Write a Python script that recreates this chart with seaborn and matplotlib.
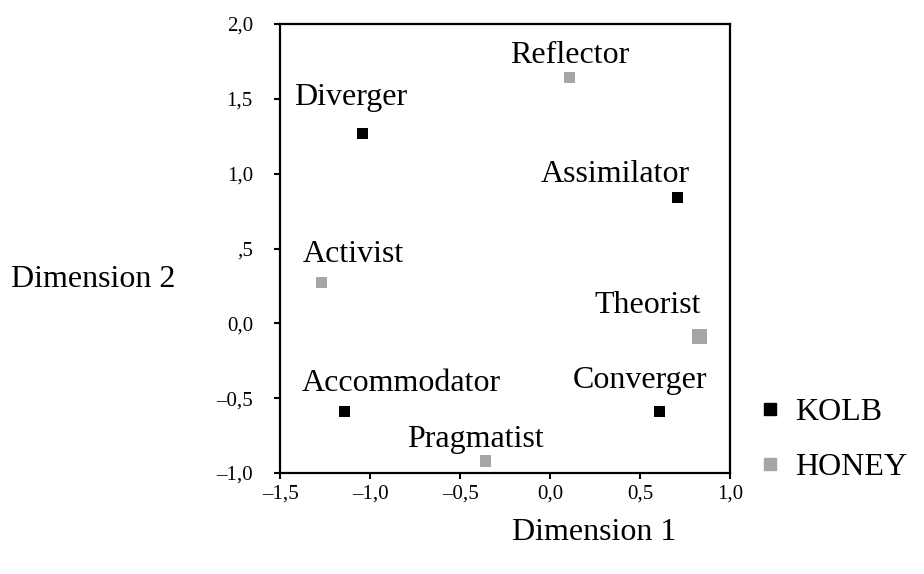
import numpy as np
import pandas as pd
import seaborn as sns
import matplotlib.pyplot as plt
from matplotlib.lines import Line2D

# Points (Dimension 1, Dimension 2)
styles = ['Diverger', 'Assimilator', 'Accommodator', 'Converger',
          'Reflector', 'Activist', 'Theorist', 'Pragmatist']
model = ['KOLB', 'KOLB', 'KOLB', 'KOLB',
         'HONEY', 'HONEY', 'HONEY', 'HONEY']
dim1 = [-1.04, 0.71, -1.14, 0.61, 0.11, -1.27, 0.83, -0.36]
dim2 = [1.27, 0.84, -0.59, -0.59, 1.64, 0.27, -0.09, -0.92]

x_ticks = [-1.5, -1.0, -0.5, 0.0, 0.5, 1.0]
x_tick_labels = ['\u20131,5', '\u20131,0', '\u20130,5', '0,0', '0,5', '1,0']
y_ticks = [-1.0, -0.5, 0.0, 0.5, 1.0, 1.5, 2.0]
y_tick_labels = ['\u20131,0', '\u20130,5', '0,0', ',5', '1,0', '1,5', '2,0']

df = pd.DataFrame({'style': styles, 'model': model, 'dim1': dim1, 'dim2': dim2})

# label placement relative to each marker, in points (dx, dy of baseline)
label_offset = {
    'Diverger': (-9, 20), 'Assimilator': (-45, 11), 'Accommodator': (41, 15),
    'Converger': (-14, 17), 'Reflector': (0, 11), 'Activist': (23, 15),
    'Theorist': (-37, 17), 'Pragmatist': (-7, 10),
}
marker_pt = {'Theorist': 10.8}
colors = {'KOLB': '#000000', 'HONEY': '#a6a6a6'}

sns.set_theme(style='white')
plt.rcParams['font.family'] = ['Liberation Serif', 'DejaVu Serif']
plt.rcParams['text.color'] = 'black'
plt.rcParams['axes.labelcolor'] = 'black'
plt.rcParams['xtick.color'] = 'black'
plt.rcParams['ytick.color'] = 'black'

fig = plt.figure(figsize=(9.24, 5.74), dpi=100)
ax = fig.add_axes([280 / 924, 1 - 473 / 574, 450 / 924, 449 / 574])

sizes = [marker_pt.get(s, 8.0) ** 2 for s in df['style']]
sns.scatterplot(data=df, x='dim1', y='dim2', hue='model', palette=colors,
                marker='s', s=sizes, linewidth=0, legend=False, ax=ax)

for _, r in df.iterrows():
    dx, dy = label_offset[r['style']]
    ax.annotate(r['style'], (r['dim1'], r['dim2']), xytext=(dx, dy),
                textcoords='offset points', ha='center', va='baseline',
                fontsize=23, color='black')

ax.set_xlim(-1.5, 1.0)
ax.set_ylim(-1.0, 2.0)
ax.set_xticks(x_ticks)
ax.set_xticklabels(x_tick_labels)
ax.set_yticks(y_ticks)
ax.set_yticklabels(y_tick_labels)
ax.tick_params(axis='both', labelsize=15, length=4.5, width=1.5, color='black',
               direction='out', left=True, bottom=True)
ax.tick_params(axis='y', pad=15)
ax.tick_params(axis='x', pad=4)
for sp in ax.spines.values():
    sp.set_linewidth(1.6)
    sp.set_color('black')

ax.set_xlabel('Dimension 1', fontsize=23)
ax.xaxis.set_label_coords(0.698, -0.10)
ax.set_ylabel('Dimension 2', fontsize=23, rotation=0, ha='center', va='center')
ax.yaxis.set_label_coords(-0.416, 0.43)

handles = [Line2D([], [], marker='s', linestyle='', color=colors[m], markersize=8.5)
           for m in ['KOLB', 'HONEY']]
ax.legend(handles, ['KOLB', 'HONEY'], loc='center left',
          bbox_to_anchor=(760 / 924, 1 - 440 / 574), bbox_transform=fig.transFigure,
          frameon=False, fontsize=23, handlelength=0.6, handletextpad=0.5,
          labelspacing=0.8, borderpad=0, borderaxespad=0)

fig.savefig('out.png', dpi=100)
